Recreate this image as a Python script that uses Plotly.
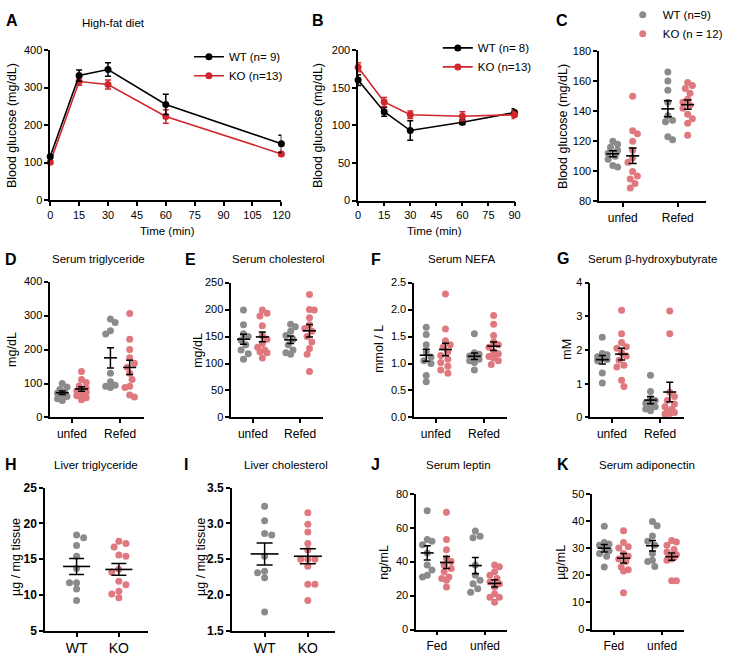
import numpy as np
import plotly.graph_objects as go

W, H = 736, 659
FONT = "Liberation Sans, Arial, Helvetica, sans-serif"
RED = "#d1262b"
GRAY = "#8b8b8b"
PINK = "#e0797f"

# ---------------- Panel A: glucose tolerance (high-fat diet) ----------------
a_time = [0, 15, 30, 60, 120]
a_wt_mean = [116, 332, 348, 255, 150]
a_wt_sem = [5, 15, 18, 27, 23]
a_ko_mean = [101, 316, 308, 223, 123]
a_ko_sem = [4, 10, 12, 18, 5]
a_legend = ["WT (n= 9)", "KO (n=13)"]

# ---------------- Panel B: insulin tolerance ----------------
b_time = [0, 15, 30, 60, 90]
b_wt_mean = [160, 118, 93, 104, 117]
b_wt_sem = [7, 6, 13, 3, 5]
b_ko_mean = [177, 131, 114, 112, 114]
b_ko_sem = [6, 6, 5, 6, 5]
b_legend = ["WT (n= 8)", "KO (n=13)"]

# ---------------- Panel C: blood glucose ----------------
c_ticks = ["unfed", "Refed"]
c_legend = ["WT (n=9)", "KO (n = 12)"]
c_unfed_wt = [120, 118, 116, 114, 112, 110, 108, 104, 103]
c_unfed_ko = [150, 127, 125, 120, 114, 109, 106, 100, 97, 95, 92, 89]
c_refed_wt = [166, 160, 154, 146, 137, 134, 133, 123, 121]
c_refed_ko = [159, 157, 155, 152, 148, 146, 144, 142, 138, 135, 132, 124]

# ---------------- Panel D: serum triglyceride ----------------
d_ticks = ["unfed", "Refed"]
d_unfed_wt = [100, 90, 82, 76, 72, 68, 62, 55, 50]
d_unfed_ko = [135, 112, 103, 93, 86, 82, 78, 74, 70, 64, 58, 52]
d_refed_wt = [290, 280, 255, 246, 130, 105, 95, 92, 88]
d_refed_ko = [306, 230, 200, 176, 160, 148, 130, 112, 92, 88, 66, 60]

# ---------------- Panel E: serum cholesterol ----------------
e_ticks = ["unfed", "Refed"]
e_unfed_wt = [199, 172, 155, 150, 143, 135, 125, 118, 108]
e_unfed_ko = [199, 193, 188, 170, 152, 145, 137, 130, 125, 122, 120, 110]
e_refed_wt = [173, 168, 160, 152, 145, 135, 125, 120, 117]
e_refed_ko = [228, 200, 199, 185, 172, 165, 160, 150, 140, 128, 117, 85]

# ---------------- Panel F: serum NEFA ----------------
f_ticks = ["unfed", "Refed"]
f_unfed_wt = [1.67, 1.54, 1.35, 1.22, 1.12, 1.05, 1.0, 0.78, 0.66]
f_unfed_ko = [2.29, 1.64, 1.42, 1.35, 1.3, 1.22, 1.15, 1.08, 1.02, 0.95, 0.88, 0.82]
f_refed_wt = [1.55, 1.2, 1.17, 1.14, 1.12, 1.08, 1.05, 1.02, 0.88]
f_refed_ko = [1.89, 1.73, 1.52, 1.4, 1.35, 1.3, 1.22, 1.18, 1.13, 1.1, 1.05, 0.98]

# ---------------- Panel G: serum beta-hydroxybutyrate ----------------
g_ticks = ["unfed", "Refed"]
g_unfed_wt = [2.38, 1.9, 1.86, 1.8, 1.75, 1.72, 1.68, 1.32, 1.02]
g_unfed_ko = [3.18, 2.48, 2.22, 2.1, 2.05, 1.92, 1.82, 1.7, 1.55, 1.5, 1.1, 0.92]
g_refed_wt = [1.25, 0.77, 0.55, 0.5, 0.42, 0.38, 0.32, 0.25, 0.2]
g_refed_ko = [3.16, 2.48, 0.75, 0.62, 0.5, 0.4, 0.32, 0.25, 0.2, 0.15, 0.12, 0.1]

# ---------------- Panel H: liver triglyceride ----------------
h_ticks = ["WT", "KO"]
h_wt = [18.4, 18.0, 16.9, 15.4, 13.7, 11.7, 11.7, 10.8, 9.2]
h_ko = [17.5, 17.2, 16.7, 15.6, 15.4, 13.6, 13.2, 11.9, 11.4, 10.5, 10.1, 9.6]

# ---------------- Panel I: liver cholesterol ----------------
i_ticks = ["WT", "KO"]
i_wt = [3.24, 3.04, 2.84, 2.86, 2.54, 2.33, 2.31, 2.24, 1.76]
i_ko = [3.15, 2.99, 2.88, 2.72, 2.63, 2.5, 2.5, 2.5, 2.4, 2.15, 2.15, 1.92]

# ---------------- Panel J: serum leptin ----------------
j_ticks = ["Fed", "unfed"]
j_fed_wt = [70, 53, 52, 50, 45, 38, 35, 32, 31]
j_fed_ko = [69, 53, 47, 42, 40, 38, 36, 34, 31, 30, 29, 25]
j_unfed_wt = [58, 55, 54, 38, 32, 29, 27, 24, 22]
j_unfed_ko = [38, 37, 34, 32, 30, 28, 27, 25, 21, 19, 19, 16]

# ---------------- Panel K: serum adiponectin ----------------
k_ticks = ["Fed", "unfed"]
k_fed_wt = [38, 32, 31.5, 31, 30, 29, 28, 27, 23]
k_fed_ko = [36.4, 32, 30.5, 30, 28, 27, 26, 25, 23, 22, 21.5, 13.5]
k_unfed_wt = [39.8, 38.2, 34.4, 32.5, 31, 28, 25.5, 25, 23.2]
k_unfed_ko = [32.8, 32.2, 31, 29.5, 28.5, 27.5, 26.5, 26.5, 25.5, 26, 18, 18]


# ---------------- helpers ----------------
def px(x):
    return x / W


def py(y):
    return 1 - y / H


def mean_sem(v):
    v = np.asarray(v, float)
    return float(v.mean()), float(v.std(ddof=1) / np.sqrt(len(v)))


def swarm(vals, center, ppx, ppy, y0, maxoff, diam=6.4, step=2.4):
    """Beeswarm-style horizontal spreading, limited to +/- maxoff pixels."""
    vals = np.asarray(vals, float)
    order = np.argsort(-vals, kind="stable")
    placed = []
    out = np.zeros(len(vals))
    flip = 1
    nst = int(maxoff // step)
    for i in order:
        yp = (vals[i] - y0) * ppy
        cands = [0.0]
        for j in range(1, nst + 1):
            cands += [flip * j * step, -flip * j * step]
        best, bestd = None, -1.0
        for c in cands:
            d = min([np.hypot(c - a, yp - b) for a, b in placed] or [99.0])
            if d >= diam:
                best = c
                break
            if d > bestd:
                best, bestd = c, d
        if best != 0:
            flip = -flip
        placed.append((best, yp))
        out[i] = center + best / ppx
    return out.tolist()


fig = go.Figure()
layout = dict(
    width=W, height=H, margin=dict(l=0, r=0, t=0, b=0, pad=0),
    paper_bgcolor="white", plot_bgcolor="white",
    font=dict(family=FONT, size=11, color="black"),
    showlegend=True,
)
annotations = []


def ann(text, x, y, size=11.5, bold=False, angle=0):
    annotations.append(dict(
        text=("<b>%s</b>" % text) if bold else text,
        x=px(x), y=py(y), xref="paper", yref="paper",
        xanchor="center", yanchor="middle", showarrow=False,
        textangle=angle, font=dict(family=FONT, size=size, color="black"),
    ))


def axes(idx, box, xr, yr, dtick, xticks=None, xdtick=None, lw=1.5,
         xfont=11, yfont=11, ybold=False, yfmt=None):
    l, r, t, b = box
    xs = "" if idx == 1 else str(idx)
    xa = dict(domain=[px(l), px(r)], range=xr, anchor="y" + xs,
              showline=True, linecolor="black", linewidth=lw,
              ticks="outside", ticklen=4, tickwidth=lw, tickcolor="black",
              showgrid=False, zeroline=False, fixedrange=True,
              tickfont=dict(family=FONT, size=xfont, color="black"))
    if xticks is not None:
        xa.update(tickmode="array", tickvals=list(range(len(xticks))), ticktext=xticks)
    else:
        xa.update(tick0=0, dtick=xdtick)
    ya = dict(domain=[py(b), py(t)], range=yr, anchor="x" + xs,
              showline=True, linecolor="black", linewidth=lw,
              ticks="outside", ticklen=4, tickwidth=lw, tickcolor="black",
              showgrid=False, zeroline=False, fixedrange=True,
              tick0=yr[0], dtick=dtick,
              tickfont=dict(family=FONT, size=yfont, color="black",
                            weight="bold" if ybold else "normal"))
    if yfmt:
        ya["tickformat"] = yfmt
    layout["xaxis" + xs] = xa
    layout["yaxis" + xs] = ya
    return "x" + xs, "y" + xs


# ---------------- line panels A and B ----------------
def line_panel(idx, box, times, xr, xdtick, yr, ydtick, series, legend_name):
    xa, ya = axes(idx, box, xr, yr, ydtick, xdtick=xdtick)
    for name, mean, sem, color in series:
        fig.add_trace(go.Scatter(
            x=times, y=mean, name=name, mode="lines+markers",
            xaxis=xa, yaxis=ya, legend=legend_name, legendgroup=legend_name + name,
            line=dict(color=color, width=1.6),
            marker=dict(color=color, size=7),
            error_y=dict(type="data", array=sem, color=color, thickness=1.5, width=3),
            cliponaxis=False,
        ))


line_panel(1, (48, 283, 43, 196.5), a_time, [0, 120], 15, [0, 400], 100,
           [(a_legend[1], a_ko_mean, a_ko_sem, RED), (a_legend[0], a_wt_mean, a_wt_sem, "black")],
           "legend")
line_panel(2, (361, 520, 43, 197), b_time, [0, 90], 15, [0, 200], 50,
           [(b_legend[0], b_wt_mean, b_wt_sem, "black"), (b_legend[1], b_ko_mean, b_ko_sem, RED)],
           "legend2")

# ---------------- dot panels ----------------
dot_panels = [
    dict(idx=3, box=(606, 715, 44, 198), xr=[-0.43, 1.52], yr=[80, 180], dt=20, ticks=c_ticks,
         wt=[c_unfed_wt, c_refed_wt], ko=[c_unfed_ko, c_refed_ko], off=0.18, mw=13, cap=4,
         legend=True, spread=6),
    dict(idx=4, box=(48, 143, 280, 419), xr=[-0.45, 1.49], yr=[0, 400], dt=100, ticks=d_ticks,
         wt=[d_unfed_wt, d_refed_wt], ko=[d_unfed_ko, d_refed_ko], off=0.2, mw=13, cap=3.5),
    dict(idx=5, box=(232, 325, 281, 419), xr=[-0.46, 1.48], yr=[0, 250], dt=50, ticks=e_ticks,
         wt=[e_unfed_wt, e_refed_wt], ko=[e_unfed_ko, e_refed_ko], off=0.2, mw=13, cap=3.5),
    dict(idx=6, box=(418, 512, 281, 419), xr=[-0.45, 1.47], yr=[0, 2.5], dt=0.5, ticks=f_ticks,
         wt=[f_unfed_wt, f_refed_wt], ko=[f_unfed_ko, f_refed_ko], off=0.2, mw=13, cap=3.5,
         yfmt=".1f"),
    dict(idx=7, box=(597, 692, 281, 419), xr=[-0.45, 1.49], yr=[0, 4], dt=1, ticks=g_ticks,
         wt=[g_unfed_wt, g_refed_wt], ko=[g_unfed_ko, g_refed_ko], off=0.2, mw=13, cap=3.5),
    dict(idx=8, box=(43, 147, 491, 637), xr=[-0.74, 1.68], yr=[5, 25], dt=5, ticks=h_ticks,
         wt=[h_wt], ko=[h_ko], off=0, mw=27, cap=7.5, single=True, lw=2, xfont=14,
         yfont=12, ybold=True, spread=12),
    dict(idx=9, box=(233, 338, 491, 637), xr=[-0.75, 1.64], yr=[1.5, 3.5], dt=0.5, ticks=i_ticks,
         wt=[i_wt], ko=[i_ko], off=0, mw=28, cap=8, single=True, lw=2, xfont=14,
         yfont=12, ybold=True, yfmt=".1f", spread=12),
    dict(idx=10, box=(420, 512, 497, 636), xr=[-0.43, 1.45], yr=[0, 80], dt=20, ticks=j_ticks,
         wt=[j_fed_wt, j_unfed_wt], ko=[j_fed_ko, j_unfed_ko], off=0.2, mw=13, cap=3.5),
    dict(idx=11, box=(599, 692, 497, 636), xr=[-0.45, 1.45], yr=[0, 50], dt=10, ticks=k_ticks,
         wt=[k_fed_wt, k_unfed_wt], ko=[k_fed_ko, k_unfed_ko], off=0.2, mw=13, cap=3.5),
]

for p in dot_panels:
    l, r, t, b = p["box"]
    xr, yr = p["xr"], p["yr"]
    xa, ya = axes(p["idx"], p["box"], xr, yr, p["dt"], xticks=p["ticks"],
                  lw=p.get("lw", 1.5), xfont=p.get("xfont", 12), yfont=p.get("yfont", 11),
                  ybold=p.get("ybold", False), yfmt=p.get("yfmt"))
    ppx = (r - l) / (xr[1] - xr[0])
    ppy = (b - t) / (yr[1] - yr[0])
    single = p.get("single", False)
    for gi, (geno, groups, color) in enumerate([("WT", p["wt"], GRAY), ("KO", p["ko"], PINK)]):
        xs, ys, cx, means, sems = [], [], [], [], []
        for k, vals in enumerate(groups):
            center = gi if single else (k + (-p["off"] if geno == "WT" else p["off"]))
            xs += swarm(vals, center, ppx, ppy, yr[0], p.get("spread", 7))
            ys += list(vals)
            m, s = mean_sem(vals)
            cx.append(center)
            means.append(m)
            sems.append(s)
        show = p.get("legend", False)
        fig.add_trace(go.Scatter(
            x=xs, y=ys, mode="markers", xaxis=xa, yaxis=ya,
            name=c_legend[gi] if show else geno, showlegend=show,
            legend="legend3", legendgroup="c" + geno,
            marker=dict(color=color, size=7, line=dict(width=0)), cliponaxis=False,
        ))
        p.setdefault("_means", []).append((cx, means, sems))
    for cx, means, sems in p["_means"]:
        fig.add_trace(go.Scatter(
            x=cx, y=means, mode="markers", xaxis=xa, yaxis=ya, showlegend=False,
            marker=dict(symbol="line-ew", size=p["mw"] / 1.4, color="black",
                        line=dict(color="black", width=1.6)),
            error_y=dict(type="data", array=sems, color="black", thickness=1.5, width=p["cap"]),
            cliponaxis=False,
        ))

# ---------------- legends ----------------
# plotly puts the first legend row 14.5 px below the legend top and rows 19 px apart
leg_common = dict(bgcolor="rgba(0,0,0,0)", borderwidth=0, xanchor="left", yanchor="top",
                  font=dict(family=FONT, size=11.5, color="black"), itemwidth=30,
                  tracegroupgap=0)
layout["legend"] = dict(leg_common, x=px(189), y=py(35), traceorder="reversed", tracegroupgap=1.5)
layout["legend2"] = dict(leg_common, x=px(442), y=py(26))
layout["legend3"] = dict(leg_common, x=px(630), y=py(-8))

# ---------------- texts ----------------
letters = [("A", 9, 13), ("B", 320, 13), ("C", 568, 13), ("D", 8, 257), ("E", 191, 257),
           ("F", 379, 257), ("G", 569, 256), ("H", 8, 467), ("I", 186, 467),
           ("J", 379, 467), ("K", 569, 467)]
for s, x, y in letters:
    ann(s, x, y, size=16, bold=True)

titles = [("High-fat diet", 112, 15), ("Serum triglyceride", 97, 257),
          ("Serum cholesterol", 280, 257), ("Serum NEFA", 466, 257),
          ("Serum β-hydroxybutyrate", 660, 257), ("Liver triglyceride", 95, 468),
          ("Liver cholesterol", 288, 468), ("Serum leptin", 463, 468),
          ("Serum adiponectin", 655, 468)]
for s, x, y in titles:
    ann(s, x, y, size=11.5)

ytitles = [("Blood glucose (mg/dL)", 9, 120), ("Blood glucose (mg/dL)", 321, 120),
           ("Blood glucose (mg/dL)", 570, 121), ("mg/dL", 9, 349), ("mg/dL", 198, 350),
           ("mmol / L", 382, 349), ("mM", 573, 349), ("µg / mg tissue", 13, 562),
           ("µg / mg tissue", 201, 562), ("ng/mL", 387, 567), ("µg/mL", 567, 567)]
for s, x, y in ytitles:
    ann(s, x, y, size=12.5, angle=-90)

ann("Time (min)", 167, 228, size=11.5)
ann("Time (min)", 439, 228, size=11.5)

layout["annotations"] = annotations
fig.update_layout(**layout)
fig.write_html(
    "out.html",
    config={"displayModeBar": False},
    post_script="document.body.style.margin='0px';document.body.style.overflow='hidden';",
)
